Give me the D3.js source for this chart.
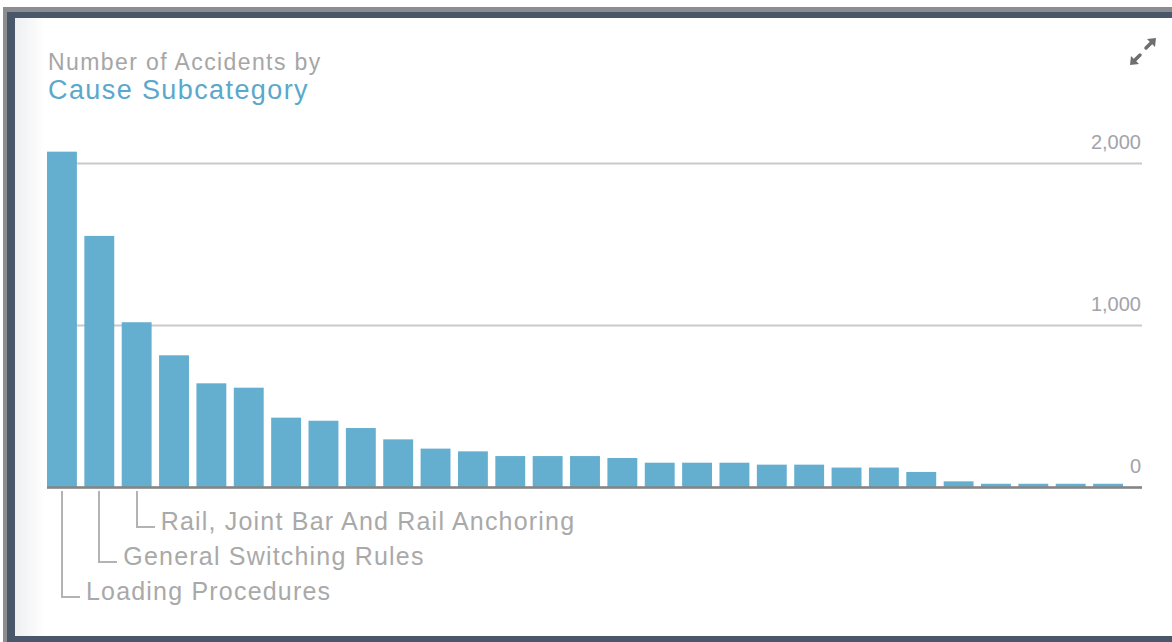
<!DOCTYPE html>
<html>
<head>
<meta charset="utf-8">
<script src="https://cdn.jsdelivr.net/npm/d3@7"></script>
<style>
  body { margin: 0; background: #fff; }
  svg { display: block; font-family: "Liberation Sans", Arial, sans-serif; }
</style>
</head>
<body>
<svg id="chart" width="1172" height="642"></svg>
<script>
// CHART DATA
var titleTop = 'Number of Accidents by';
var titleMain = 'Cause Subcategory';
var values = [2070, 1550, 1017, 813, 640, 613, 428, 409, 364, 294, 237, 220, 191, 191, 191,
              179, 150, 150, 150, 138, 138, 120, 120, 93, 35, 20, 20, 20, 20];
var labelled = ['Loading Procedures', 'General Switching Rules', 'Rail, Joint Bar And Rail Anchoring'];
var yTicks = [0, 1000, 2000];

// SETTINGS
var settings = {
  bar: '#64aed0',
  grid: '#cacaca',
  base: '#858585',
  tickText: '#a3a3ab',
  label: '#a9a9a9',
  titleGray: '#a6a6a6',
  titleBlue: '#5aa8cc',
  left: 47, right: 1142, barsEnd: 1123,
  top: 163, bottom: 487
};

var svg = d3.select('#chart');

// FRAME
svg.append('rect').attr('x', 3).attr('y', 7).attr('width', 1169).attr('height', 635).attr('fill', '#8b8d90');
svg.append('rect').attr('x', 7).attr('y', 12).attr('width', 1165).attr('height', 630).attr('fill', '#4a5669');
svg.append('rect').attr('x', 15).attr('y', 18).attr('width', 1157).attr('height', 618).attr('fill', '#fff');

var grad = svg.append('defs').append('linearGradient').attr('id', 'lshade');
grad.append('stop').attr('offset', '0%').attr('stop-color', '#eeeff1');
grad.append('stop').attr('offset', '100%').attr('stop-color', '#ffffff');
svg.append('rect').attr('x', 15).attr('y', 18).attr('width', 30).attr('height', 618).attr('fill', 'url(#lshade)');

// TITLE
svg.append('text').attr('x', 48).attr('y', 70)
  .attr('font-size', 23).attr('letter-spacing', 1.4).attr('fill', settings.titleGray).text(titleTop);
svg.append('text').attr('x', 48).attr('y', 99)
  .attr('font-size', 27).attr('letter-spacing', 1.4).attr('fill', settings.titleBlue).text(titleMain);

// EXPAND ICON
var icon = svg.append('g').attr('stroke', '#6f6f6f').attr('fill', '#6f6f6f').attr('stroke-width', 3.5).attr('stroke-linecap', 'round');
icon.append('line').attr('x1', 1134).attr('y1', 61).attr('x2', 1140).attr('y2', 55);
icon.append('line').attr('x1', 1146).attr('y1', 48).attr('x2', 1152).attr('y2', 42);
icon.append('path').attr('stroke', 'none').attr('d', 'M1130,65 L1131,56 L1139,64 Z');
icon.append('path').attr('stroke', 'none').attr('d', 'M1156,38 L1155,47 L1147,39 Z');

// SCALES
var x = d3.scaleBand()
  .domain(d3.range(values.length))
  .range([settings.left, settings.barsEnd])
  .paddingInner(0.2)
  .paddingOuter(0);

var y = d3.scaleLinear()
  .domain([0, 2000])
  .range([settings.bottom, settings.top]);

// GRID + TICK LABELS
var axis = svg.append('g')
  .attr('transform', 'translate(' + settings.right + ',0)')
  .call(d3.axisLeft(y).tickValues(yTicks).tickSize(settings.right - settings.left).tickFormat(d3.format(',')));
axis.select('.domain').remove();
axis.selectAll('.tick line').attr('stroke', settings.grid).attr('stroke-width', 2);
axis.selectAll('.tick text')
  .attr('x', -1).attr('dy', -15).attr('text-anchor', 'end')
  .attr('font-size', 20).attr('font-family', '"Liberation Sans", Arial, sans-serif')
  .attr('fill', settings.tickText);

// BARS
svg.selectAll('.bar').data(values).enter()
  .append('rect')
  .attr('class', 'bar')
  .attr('x', function (d, i) { return x(i); })
  .attr('y', function (d) { return y(d); })
  .attr('width', x.bandwidth())
  .attr('height', function (d) { return y(0) - y(d); })
  .attr('fill', settings.bar);

// BASELINE
svg.append('line')
  .attr('x1', settings.left).attr('x2', settings.right)
  .attr('y1', y(0) + 0.5).attr('y2', y(0) + 0.5)
  .attr('stroke', settings.base).attr('stroke-width', 2.5);

// CATEGORY LABELS WITH L-CONNECTORS
var lab = svg.selectAll('.lab').data(labelled).enter()
  .append('g').attr('class', 'lab');

lab.append('path')
  .attr('fill', 'none').attr('stroke', '#b3b3b3').attr('stroke-width', 2)
  .attr('d', function (d, i) {
    var cx = Math.round(x(i) + x.bandwidth() / 2);
    var fy = 597 - i * 35;
    return 'M' + cx + ',' + (y(0) + 4) + ' V' + fy + ' H' + (cx + 18);
  });

lab.append('text')
  .attr('x', function (d, i) { return x(i) + x.bandwidth() / 2 + 24; })
  .attr('y', function (d, i) { return 600 - i * 35; })
  .attr('font-size', 25).attr('letter-spacing', 1.2)
  .attr('fill', settings.label)
  .text(function (d) { return d; });
</script>
</body>
</html>
